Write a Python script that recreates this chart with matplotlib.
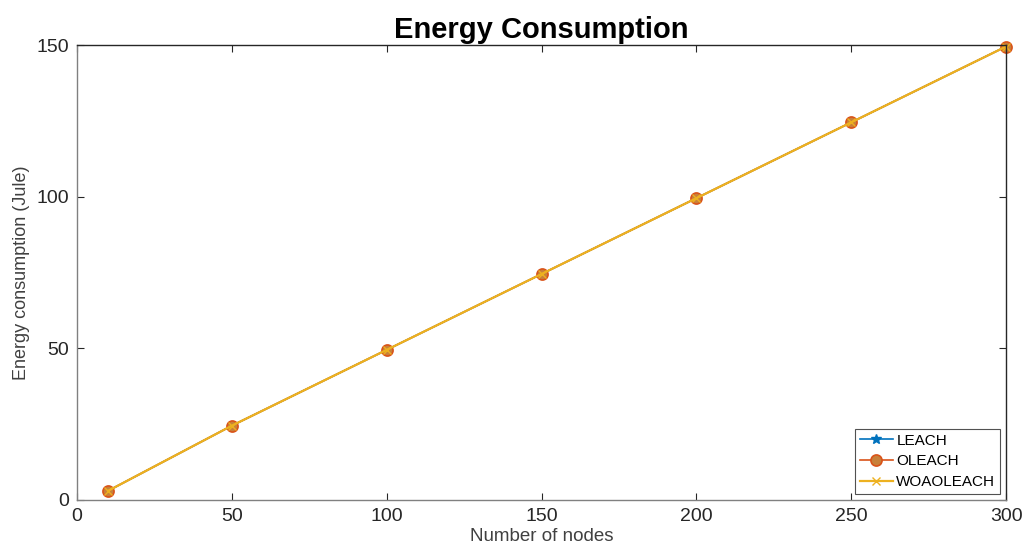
import matplotlib
matplotlib.use('Agg')
import matplotlib.pyplot as plt

# data
nodes = [10, 50, 100, 150, 200, 250, 300]
leach = [3.0, 24.5, 49.5, 74.5, 99.5, 124.5, 149.5]
oleach = [3.0, 24.5, 49.5, 74.5, 99.5, 124.5, 149.5]
woaoleach = [3.0, 24.5, 49.5, 74.5, 99.5, 124.5, 149.5]

plt.rcParams['font.family'] = ['Liberation Sans', 'DejaVu Sans']

fig = plt.figure(figsize=(10.29, 5.55), dpi=100)
ax = fig.add_axes([0.0748, 0.0991, 0.9029, 0.8198])

ax.plot(nodes, leach, color='#0072BD', marker='*', markersize=7, lw=1.2,
        clip_on=False, label='LEACH')
ax.plot(nodes, oleach, color='#D95319', marker='o', markersize=8, lw=1.2,
        mfc='#C8803A', mew=1.2, clip_on=False, label='OLEACH')
ax.plot(nodes, woaoleach, color='#EDB120', marker='x', markersize=6, lw=1.6,
        clip_on=False, label='WOAOLEACH')

ax.set_xlim(0, 300)
ax.set_ylim(0, 150)
ax.set_xticks([0, 50, 100, 150, 200, 250, 300])
ax.set_yticks([0, 50, 100, 150])
ax.tick_params(direction='in', labelsize=14, colors='#262626', length=5,
               top=True, right=True, pad=6)
for side in ['top', 'right']:
    ax.spines[side].set_color('#262626')
for side in ['left', 'bottom']:
    ax.spines[side].set_color('#808080')
for sp in ax.spines.values():
    sp.set_linewidth(1.0)

ax.set_xlabel('Number of nodes', fontsize=13.5, color='#404040', labelpad=2)
ax.set_ylabel('Energy consumption (Jule)', fontsize=13, color='#404040', labelpad=4)
ax.set_title('Energy Consumption', fontsize=21, fontweight='bold', pad=5)

leg = ax.legend(loc='lower right', fontsize=11, frameon=True, fancybox=False,
                edgecolor='#262626', borderpad=0.3, handlelength=2.2,
                handletextpad=0.2, labelspacing=0.45, borderaxespad=0.4)
leg.get_frame().set_linewidth(0.8)

fig.savefig('out.png', dpi=100)
